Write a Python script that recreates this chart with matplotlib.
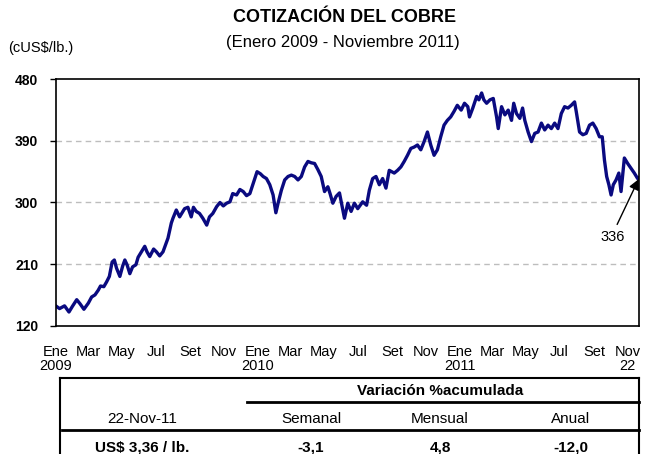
import matplotlib
matplotlib.use("Agg")
import matplotlib.pyplot as plt
import pandas as pd
from matplotlib.lines import Line2D

plt.rcParams['font.family'] = ['Liberation Sans', 'DejaVu Sans']

# ---------------- data ----------------
dates = [
    "2009-01-01", "2009-01-08", "2009-01-17", "2009-01-25", "2009-01-31", "2009-02-08", "2009-02-14",
    "2009-02-21", "2009-03-01", "2009-03-07", "2009-03-13", "2009-03-19", "2009-03-23", "2009-03-29",
    "2009-04-03", "2009-04-08", "2009-04-13", "2009-04-17", "2009-04-21", "2009-04-27", "2009-05-02",
    "2009-05-06", "2009-05-10", "2009-05-15", "2009-05-20", "2009-05-26", "2009-05-30", "2009-06-05",
    "2009-06-11", "2009-06-15", "2009-06-20", "2009-06-27", "2009-07-02", "2009-07-08",
    "2009-07-14", "2009-07-23", "2009-07-29", "2009-08-01", "2009-08-07", "2009-08-13", "2009-08-22",
    "2009-08-28", "2009-09-03", "2009-09-07", "2009-09-12", "2009-09-18", "2009-09-24", "2009-10-01",
    "2009-10-06", "2009-10-12", "2009-10-19", "2009-10-25", "2009-10-31", "2009-11-06", "2009-11-12",
    "2009-11-17", "2009-11-24", "2009-11-30", "2009-12-06", "2009-12-12", "2009-12-18", "2009-12-24",
    "2009-12-31", "2010-01-06", "2010-01-11", "2010-01-17", "2010-01-23", "2010-01-29", "2010-02-03",
    "2010-02-07", "2010-02-13", "2010-02-19", "2010-02-25", "2010-03-03", "2010-03-09", "2010-03-15",
    "2010-03-21", "2010-03-27", "2010-04-02", "2010-04-08", "2010-04-14", "2010-04-20", "2010-04-26",
    "2010-05-02", "2010-05-08", "2010-05-12", "2010-05-17", "2010-05-23", "2010-05-29",
    "2010-06-07", "2010-06-13", "2010-06-19", "2010-06-25", "2010-07-01", "2010-07-10", "2010-07-17",
    "2010-07-22", "2010-07-28", "2010-08-03", "2010-08-09", "2010-08-15", "2010-08-21", "2010-08-27",
    "2010-09-05", "2010-09-11", "2010-09-17", "2010-09-23", "2010-09-29", "2010-10-05", "2010-10-11",
    "2010-10-17", "2010-10-23", "2010-10-29", "2010-11-04", "2010-11-10", "2010-11-16", "2010-11-22",
    "2010-11-28", "2010-12-04", "2010-12-10", "2010-12-16", "2010-12-22", "2010-12-28", "2011-01-04",
    "2011-01-10", "2011-01-16", "2011-01-19", "2011-01-25", "2011-02-01", "2011-02-05", "2011-02-10",
    "2011-02-14", "2011-02-19", "2011-02-25", "2011-03-03", "2011-03-09", "2011-03-12", "2011-03-18",
    "2011-03-24", "2011-03-30", "2011-04-05", "2011-04-09", "2011-04-14", "2011-04-20", "2011-04-25",
    "2011-04-29", "2011-05-05", "2011-05-11", "2011-05-17", "2011-05-23", "2011-05-29", "2011-06-04",
    "2011-06-10", "2011-06-16", "2011-06-22", "2011-06-28", "2011-07-04", "2011-07-10", "2011-07-16",
    "2011-07-22", "2011-07-28", "2011-07-31", "2011-08-06", "2011-08-12", "2011-08-18", "2011-08-24",
    "2011-08-30", "2011-09-05", "2011-09-11", "2011-09-16", "2011-09-20", "2011-09-24", "2011-09-28",
    "2011-10-02", "2011-10-06", "2011-10-11", "2011-10-16", "2011-10-20", "2011-10-26", "2011-11-01",
    "2011-11-07", "2011-11-13", "2011-11-19", "2011-11-22",
]
prices = [
    149, 145, 149, 140, 148, 158, 152,
    144, 153, 162, 165, 172, 178, 177,
    184, 192, 213, 216, 204, 192, 207,
    216, 209, 196, 206, 209, 220, 228,
    236, 228, 221, 232, 228, 222,
    228, 248, 270, 277, 289, 279, 291,
    293, 279, 293, 287, 284, 277, 267,
    279, 284, 294, 300, 295, 299, 301,
    313, 311, 319, 316, 310, 313, 328,
    345, 342, 338, 335, 326, 311, 285,
    299, 318, 333, 338, 340, 338, 333,
    338, 352, 360, 358, 357, 348, 338,
    316, 323, 313, 299, 309, 314,
    277, 299, 287, 299, 291, 301, 296,
    318, 335, 338, 326, 335, 321, 347,
    343, 347, 352, 360, 369, 379, 381,
    384, 377, 389, 403, 384, 369, 377,
    396, 413, 420, 425, 433, 442, 435,
    445, 440, 425, 438, 455, 450, 460,
    450, 445, 450, 452, 425, 408, 440,
    428, 435, 420, 445, 430, 423, 438,
    420, 403, 389, 401, 403, 416, 406,
    413, 408, 416, 408, 430, 440, 438,
    442, 447, 433, 403, 399, 401, 413,
    416, 408, 396, 396, 362, 338, 326,
    311, 326, 333, 343, 316, 365, 357,
    350, 343, 335, 336,
]

y_ticks = [120, 210, 300, 390, 480]
x_tick_dates = ["2009-01-01", "2009-03-01", "2009-05-01", "2009-07-01", "2009-09-01", "2009-11-01",
                "2010-01-01", "2010-03-01", "2010-05-01", "2010-07-01", "2010-09-01", "2010-11-01",
                "2011-01-01", "2011-03-01", "2011-05-01", "2011-07-01", "2011-09-01", "2011-11-01"]
x_tick_labels = ["Ene\n2009", "Mar", "May", "Jul", "Set", "Nov",
                 "Ene\n2010", "Mar", "May", "Jul", "Set", "Nov",
                 "Ene\n2011", "Mar", "May", "Jul", "Set", "Nov\n22"]

title = "COTIZACIÓN DEL COBRE"
subtitle = "(Enero 2009 - Noviembre 2011)"
unit_label = "(cUS$/lb.)"
last_label = "336"

table_date = "22-Nov-11"
table_group = "Variación %acumulada"
table_cols = ["Semanal", "Mensual", "Anual"]
table_price = "US$ 3,36 / lb."
table_vals = ["-3,1", "4,8", "-12,0"]

# ---------------- figure ----------------
W, H = 653, 454
fig = plt.figure(figsize=(W / 100, H / 100), dpi=100)

def fx(x):
    return x / W

def fy(y):
    return 1 - y / H

left, right, top, bottom = 55.7, 639.3, 79.3, 325.7
ax = fig.add_axes([fx(left), fy(bottom), fx(right) - fx(left), fy(top) - fy(bottom)])

d = pd.to_datetime(dates)
ax.plot(d, prices, color="#0a0a80", lw=2.4, solid_joinstyle="round")

ax.set_ylim(120, 480)
ax.set_yticks(y_ticks)
ax.set_yticklabels([str(v) for v in y_ticks], fontweight="bold", fontsize=10)
ax.set_xlim(pd.Timestamp("2009-01-01"), pd.Timestamp("2011-11-22"))
ax.set_xticks(pd.to_datetime(x_tick_dates))
ax.set_xticklabels(x_tick_labels, fontsize=10.5, linespacing=1.0)
ax.tick_params(axis="x", length=0, pad=14)
ax.tick_params(axis="y", length=4, width=1, direction="out", pad=8.5)
for lab in ax.get_yticklabels():
    lab.set_horizontalalignment("right")

for v in y_ticks[1:-1]:
    ax.axhline(v, color="#bdbdbd", lw=1.0, ls=(0, (4, 3)), zorder=0)

for s in ax.spines.values():
    s.set_color("black")
    s.set_linewidth(1.2)

ax.annotate(last_label, xy=(pd.Timestamp(dates[-1]), prices[-1]),
            xytext=(pd.Timestamp("2011-10-04"), 250), ha="center", va="center", fontsize=10.5,
            arrowprops=dict(arrowstyle="-|>,head_length=0.6,head_width=0.3", color="black", lw=1.0,
                            relpos=(0.6, 1.0), shrinkA=2, shrinkB=1))

# titles
fig.text(fx(345), fy(18), title, ha="center", va="center", fontsize=13, fontweight="bold")
fig.text(fx(343), fy(42), subtitle, ha="center", va="center", fontsize=12)
fig.text(fx(8), fy(48), unit_label, ha="left", va="center", fontsize=10.5)

# table
def hline(x0, x1, y, lw):
    fig.add_artist(Line2D([fx(x0), fx(x1)], [fy(y), fy(y)], color="black", lw=lw))

def vline(x, y0, y1, lw):
    fig.add_artist(Line2D([fx(x), fx(x)], [fy(y0), fy(y1)], color="black", lw=lw))

hline(60, 639, 378, 1.5)
vline(60, 378, 454, 1.5)
vline(639, 378, 454, 1.5)
hline(247, 639, 401.5, 2.0)
hline(62, 639, 429.5, 2.0)

fig.text(fx(440), fy(391), table_group, ha="center", va="center", fontsize=11, fontweight="bold")
fig.text(fx(142), fy(419), table_date, ha="center", va="center", fontsize=11)
col_x = [311, 440, 571]
for cx, lab, val in zip(col_x, table_cols, table_vals):
    fig.text(fx(cx), fy(419), lab, ha="center", va="center", fontsize=11)
    fig.text(fx(cx), fy(447), val, ha="center", va="center", fontsize=11, fontweight="bold")
fig.text(fx(142), fy(447), table_price, ha="center", va="center", fontsize=11, fontweight="bold")

fig.savefig("out.png", dpi=100)
